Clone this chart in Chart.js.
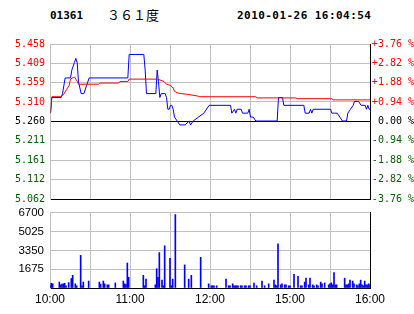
<!DOCTYPE html>
<html><head><meta charset="utf-8">
<script src="https://cdn.jsdelivr.net/npm/chart.js@4/dist/chart.umd.min.js"></script>
<style>
html,body{margin:0;padding:0;background:#fff;width:414px;height:314px;overflow:hidden;}
#wrap{position:relative;width:414px;height:314px;}
canvas{position:absolute;left:0;}
.t{position:absolute;white-space:nowrap;color:#000;}
</style></head><body>
<div id="wrap">
<div class="t" style="left:50px;top:9px;font:bold 11px 'DejaVu Sans Mono';">01361</div>
<div class="t" style="left:107px;top:7px;font:13px 'Noto Sans CJK SC';line-height:16px;">３６１度</div>
<div class="t" style="left:237px;top:9px;font:bold 11px 'DejaVu Sans Mono';letter-spacing:0.45px;">2010-01-26 16:04:54</div>
<canvas id="pc" width="414" height="210" style="top:0"></canvas>
<canvas id="vc" width="414" height="114" style="top:200px"></canvas>
</div>
<script>
// ---- data ----
const timeTicks = [0, 30, 60, 90, 120, 150, 180, 210, 240];
const timeLabels = ['10:00', '', '11:00', '', '12:00', '', '15:00', '', '16:00'];
const priceTicks = [5.062, 5.112, 5.161, 5.211, 5.260, 5.310, 5.359, 5.409, 5.458];
const pctTicks = [-3.76, -2.82, -1.88, -0.94, 0.00, 0.94, 1.88, 2.82, 3.76];
const volTicks = [0, 1675, 3350, 5025, 6700];
const prevClose = 5.260;

const priceMinutes = [0,1,8,9,10,11,15,16,17,18,19,20,21,23,25,27,29,58,59,70,71,72,79,80,81,82,83,86,87,88,89,90,91,92,93,95,97,101,104,105,107,111,115,119,135,136,138,139,140,143,144,148,149,150,152,154,170,171,174,175,190,191,194,195,196,197,210,211,213,215,217,219,222,223,225,227,228,230,231,233,236,237,238,239,240];
const priceValues  = [5.28,5.32,5.32,5.33,5.35,5.37,5.37,5.39,5.40,5.41,5.42,5.41,5.36,5.33,5.33,5.35,5.37,5.37,5.43,5.43,5.39,5.33,5.33,5.39,5.36,5.32,5.33,5.33,5.32,5.29,5.29,5.30,5.30,5.29,5.27,5.26,5.25,5.25,5.26,5.25,5.26,5.27,5.28,5.30,5.30,5.28,5.29,5.28,5.29,5.29,5.28,5.28,5.29,5.27,5.27,5.26,5.26,5.32,5.32,5.30,5.30,5.28,5.28,5.29,5.28,5.29,5.29,5.28,5.28,5.28,5.27,5.26,5.26,5.28,5.29,5.30,5.31,5.31,5.31,5.30,5.30,5.29,5.30,5.29,5.29];

const avgMinutes = [0,1,8,10,12,14,15,17,18,20,21,36,37,51,52,58,59,80,82,85,87,90,92,93,95,98,103,110,112,154,155,184,185,211,212,240];
const avgValues  = [5.280,5.322,5.322,5.329,5.340,5.351,5.367,5.371,5.372,5.362,5.354,5.354,5.357,5.357,5.361,5.361,5.367,5.367,5.365,5.361,5.354,5.351,5.344,5.336,5.332,5.330,5.328,5.324,5.322,5.322,5.319,5.319,5.317,5.317,5.314,5.314];

const volMinutes = [0,1,2,7,8,9,10,11,12,14,16,17,19,20,23,24,25,29,37,38,40,41,43,44,49,55,56,57,58,59,70,71,72,79,80,81,82,84,85,86,90,91,92,94,101,104,106,113,119,121,122,123,125,132,134,135,137,138,139,140,141,143,144,146,147,149,150,153,155,159,161,164,168,169,170,171,173,174,176,177,179,180,183,186,188,189,191,192,194,195,197,198,200,201,203,204,206,209,210,211,212,213,214,215,221,222,223,224,225,227,228,230,231,232,233,234,235,236,237,238,239,240];
const volValues  = [200,420,370,530,280,340,370,420,200,480,850,1130,370,200,2910,200,530,620,530,340,620,370,280,280,450,620,370,310,2230,960,1130,200,790,280,1720,960,3160,700,200,3760,2650,200,790,6550,2060,790,1130,2740,370,200,200,200,200,790,200,200,370,200,200,200,200,200,200,200,200,200,200,450,200,620,200,370,700,280,200,3930,280,370,280,280,200,200,1210,1040,200,200,530,875,280,875,280,200,280,200,530,370,450,280,370,450,280,1380,280,280,875,280,280,370,700,620,370,280,200,370,700,280,200,620,280,280,370,280];

// ---- styles ----
const RED = '#ff0000', GREEN = '#006400', BLUE = '#0000ff', GRID = '#c0c0c0';
const monoFont = {family: "'DejaVu Sans Mono', 'Liberation Mono', monospace", size: 10};
const sansFont = {family: "'Liberation Sans', Arial, sans-serif", size: 11.5};

function pts(xs, ys){ return xs.map((x,i)=>({x:x, y:ys[i]})); }
const setTicks = arr => scale => { scale.ticks = arr.map(v => ({value: v})); };

// pixel-snapping for 1px lines (style only)
const crispLines = {
  id: 'crispLines',
  beforeDatasetsDraw(chart){ chart.ctx.save(); chart.ctx.translate(0.5, -0.5); },
  afterDatasetsDraw(chart){ chart.ctx.restore(); }
};

new Chart(document.getElementById('pc'), {
  type: 'line',
  data: { datasets: [
    {data: pts(avgMinutes, avgValues), borderColor: RED, borderWidth: 1, pointRadius: 0, tension: 0, yAxisID: 'y'},
    {data: pts(priceMinutes, priceValues), borderColor: BLUE, borderWidth: 1, pointRadius: 0, tension: 0, yAxisID: 'y'}
  ]},
  plugins: [crispLines],
  options: {
    responsive: false, animation: false, devicePixelRatio: 1,
    layout: {padding: {top: 44, bottom: 7, left: 0, right: 0}},
    plugins: {legend: {display: false}, tooltip: {enabled: false}},
    scales: {
      x: {type: 'linear', min: 0, max: 240, offset: false,
          afterBuildTicks: setTicks(timeTicks),
          afterFit: s => { s.height = 0; },
          ticks: {display: false},
          border: {display: false},
          grid: {drawTicks: false, color: c => c.index === timeTicks.length - 1 ? '#000' : GRID}},
      y: {position: 'left', min: priceTicks[0], max: priceTicks[priceTicks.length-1],
          afterBuildTicks: setTicks(priceTicks),
          afterFit: s => { s.width = 50; },
          border: {color: GRID},
          grid: {drawTicks: false, color: c => (c.index === 0 || c.index === 4) ? '#000' : GRID},
          ticks: {padding: 5, font: monoFont,
            callback: v => v.toFixed(3),
            color: c => c.index > 4 ? RED : (c.index === 4 ? '#000' : GREEN)}},
      pct: {position: 'right', min: pctTicks[0], max: pctTicks[pctTicks.length-1],
          afterBuildTicks: setTicks(pctTicks),
          afterFit: s => { s.width = 44; },
          border: {color: '#000'},
          grid: {display: false, drawTicks: false},
          ticks: {padding: 0, crossAlign: 'far', font: monoFont,
            callback: v => (v > 0 ? '+' : '') + v.toFixed(2) + ' %',
            color: c => c.index > 4 ? RED : (c.index === 4 ? '#000' : GREEN)}}
    }
  }
});

new Chart(document.getElementById('vc'), {
  type: 'bar',
  data: { datasets: [
    {data: pts(volMinutes, volValues), backgroundColor: BLUE, barThickness: 1, yAxisID: 'y'}
  ]},
  options: {
    responsive: false, animation: false, devicePixelRatio: 1,
    layout: {padding: {top: 9, bottom: 0, left: 0, right: 0}},
    plugins: {legend: {display: false}, tooltip: {enabled: false}},
    scales: {
      x: {type: 'linear', min: 0, max: 240, offset: false,
          afterBuildTicks: setTicks(timeTicks),
          afterFit: s => { s.height = 26; },
          border: {display: false},
          grid: {drawTicks: false, offset: false, color: c => c.index === timeTicks.length - 1 ? '#000' : GRID},
          ticks: {padding: 4, maxRotation: 0, autoSkip: false, font: {family: sansFont.family, size: 12}, color: '#000',
            callback: (v, i) => timeLabels[i]}},
      y: {position: 'left', min: 0, max: volTicks[volTicks.length-1],
          afterBuildTicks: setTicks(volTicks),
          afterFit: s => { s.width = 50; },
          border: {color: GRID},
          grid: {drawTicks: false, color: c => c.index === 0 ? '#000' : GRID},
          ticks: {padding: 6, font: sansFont, color: '#000', callback: v => v === 0 ? '' : String(v)}},
      yr: {position: 'right', min: 0, max: 1,
          afterFit: s => { s.width = 44; },
          border: {color: '#000'},
          grid: {display: false, drawTicks: false},
          ticks: {display: false}}
    }
  }
});
</script>
</body></html>
